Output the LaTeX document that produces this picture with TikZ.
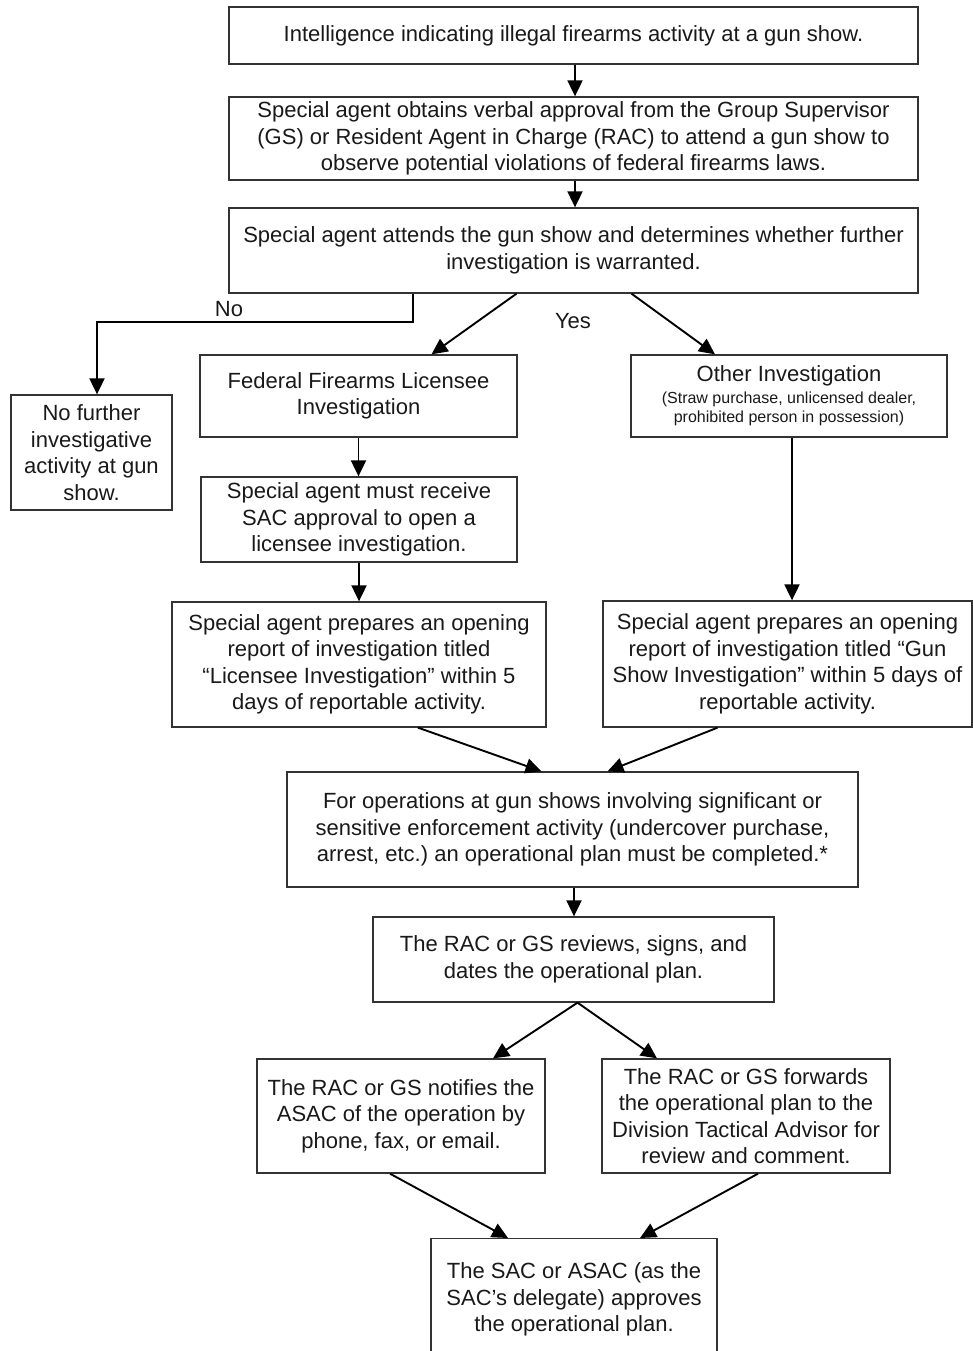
\documentclass[tikz,border=0pt]{standalone}
\usepackage{fontspec}
\setmainfont{Liberation Sans}
\usetikzlibrary{arrows.meta}

\begin{document}
\begin{tikzpicture}[x=1pt,y=-1pt,
    box/.style={draw=black!80, line width=1.3pt, align=center, inner sep=0pt,
      font=\fontsize{22}{26.5}\selectfont\frenchspacing, text=black!90},
    arr/.style={line width=1.9pt, -{Triangle[length=16pt,width=15pt]}},
    lbl/.style={font=\fontsize{22}{26}\selectfont, text=black!90}]
          \useasboundingbox (0,0) rectangle (973,1351);
          \clip (0,0) rectangle (973,1351);

          \node [box, minimum width=689, minimum height=57] (intel) at (573.5,35.5)
            {Intelligence indicating illegal firearms activity at a gun show.}; % top box
          \node [box, minimum width=689, minimum height=83] (verbal) at (573.5,138.5)
            {Special agent obtains verbal approval from the Group Supervisor\\
             (GS) or Resident Agent in Charge (RAC) to attend a gun show to\\
             observe potential violations of federal firearms laws.};
          \node [box, minimum width=689, minimum height=85] (attend) at (573.5,250.5)
            {Special agent attends the gun show and determines whether further\\
             investigation is warranted.};

          \node [box, minimum width=161, minimum height=115] (nofurther) at (91.5,452.5)
            {No further\\investigative\\activity at gun\\show.};
          \node [box, minimum width=317, minimum height=82] (ffl) at (358.5,396)
            {Federal Firearms Licensee\\Investigation};
          \node [box, minimum width=316, minimum height=82] (other) at (789,396)
            {Other Investigation\\[-5pt]
             \fontsize{16}{19}\selectfont (Straw purchase, unlicensed dealer,\\[-7pt]
             \fontsize{16}{19}\selectfont prohibited person in possession)}; % smaller print

          \node [box, minimum width=316, minimum height=85] (sacok) at (359,519.5)
            {Special agent must receive\\SAC approval to open a\\licensee investigation.};
          \node [box, minimum width=374, minimum height=125] (reportl) at (359,664.5)
            {Special agent prepares an opening\\report of investigation titled\\
             ``Licensee Investigation'' within 5\\days of reportable activity.};
          \node [box, minimum width=369, minimum height=126] (reportr) at (787.5,664)
            {Special agent prepares an opening\\report of investigation titled ``Gun\\
             Show Investigation'' within 5 days of\\reportable activity.};

          \node [box, minimum width=571, minimum height=115] (opplan) at (572.5,829.5)
            {For operations at gun shows involving significant or\\
             sensitive enforcement activity (undercover purchase,\\
             arrest, etc.) an operational plan must be completed.*};
          \node [box, minimum width=401, minimum height=85] (review) at (573.5,959.5)
            {The RAC or GS reviews, signs, and\\dates the operational plan.};

          \node [box, minimum width=288, minimum height=114] (notify) at (401,1116)
            {The RAC or GS notifies the\\ASAC of the operation by\\phone, fax, or email.};
          \node [box, minimum width=288, minimum height=114] (forward) at (746,1116)
            {The RAC or GS forwards\\the operational plan to the\\Division Tactical Advisor for\\review and comment.};
          \node [box, minimum width=286, minimum height=122, anchor=north] (approve) at (574,1238)
            {The SAC or ASAC (as the\\SAC's delegate) approves\\the operational plan.}; % runs off the page

          \coordinate (noturn) at (413,322);
          \coordinate (nobend) at (97,322);
          \node [lbl] (nolabel) at (229,309) {No};
          \node [lbl] (yeslabel) at (573,321) {Yes};

          \draw [arr] ([xshift=1.5]intel.south) -- ([xshift=1.5]verbal.north);
          \draw [arr] ([xshift=1.5]verbal.south) -- ([xshift=1.5]attend.north);

          \draw [arr] (attend.south -| noturn) -- (noturn) -- (nobend) -- (nofurther.north -| nobend);
          \draw [arr] ([xshift=-57]attend.south) -- ([xshift=73]ffl.north);
          \draw [arr] ([xshift=58]attend.south) -- ([xshift=-74]other.north);

          \draw [arr] (ffl.south) -- (sacok.north -| ffl.south);
          \draw [arr] (sacok.south) -- (reportl.north -| sacok.south);
          \draw [arr] ([xshift=3]other.south) -- ([xshift=3]other.south |- reportr.north);

          \draw [arr] ([xshift=59]reportl.south) -- ([xshift=-31]opplan.north);
          \draw [arr] ([xshift=-70]reportr.south) -- ([xshift=35]opplan.north);
          \draw [arr] ([xshift=1.5]opplan.south) -- ([xshift=1.5]opplan.south |- review.north);

          \draw [arr] ([xshift=4]review.south) -- ([xshift=92]notify.north);
          \draw [arr] ([xshift=4]review.south) -- ([xshift=-89]forward.north);
          \draw [arr] ([xshift=-11]notify.south) -- ([xshift=-66]approve.north);
          \draw [arr] ([xshift=12]forward.south) -- ([xshift=66]approve.north);
        \end{tikzpicture}
\end{document}
